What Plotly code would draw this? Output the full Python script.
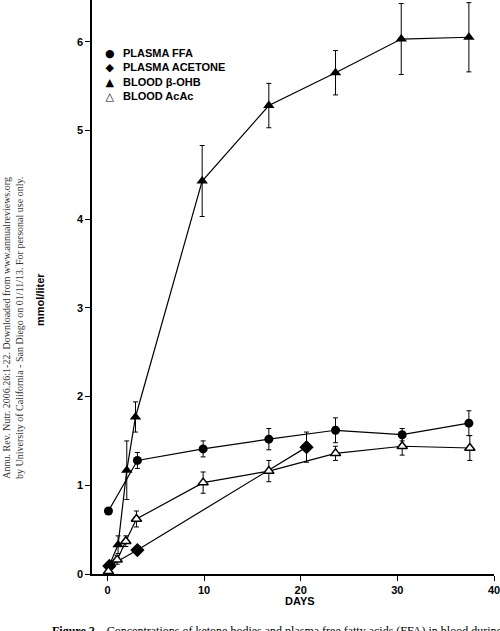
import plotly.graph_objects as go

# values
ffa_days = [0.1, 3.1, 9.9, 16.7, 23.6, 30.5, 37.4]
ffa = [0.71, 1.28, 1.41, 1.52, 1.62, 1.57, 1.70]
ffa_err = [0, 0.09, 0.09, 0.12, 0.14, 0.07, 0.14]

acetone_days = [0.2, 3.1, 20.6]
acetone = [0.09, 0.27, 1.43]
acetone_err = [0, 0, 0.17]

ohb_days = [0.2, 1.1, 2.0, 2.9, 9.8, 16.7, 23.6, 30.4, 37.4]
ohb = [0.10, 0.33, 1.17, 1.77, 4.43, 5.28, 5.65, 6.03, 6.05]
ohb_err = [0, 0.10, 0.33, 0.17, 0.40, 0.25, 0.25, 0.40, 0.39]

acac_days = [0.1, 1.0, 1.9, 3.0, 9.9, 16.7, 23.6, 30.5, 37.5]
acac = [0.03, 0.16, 0.37, 0.62, 1.03, 1.16, 1.36, 1.44, 1.42]
acac_err = [0, 0.05, 0.06, 0.09, 0.12, 0.12, 0.08, 0.10, 0.14]

x_ticks = [0, 10, 20, 30, 40]
y_ticks = [0, 1, 2, 3, 4, 5, 6]

legend_symbols = ["●", "◆", "▲", "△"]
legend_names = ["PLASMA FFA", "PLASMA ACETONE", "BLOOD β-OHB", "BLOOD AcAc"]

sidebar = ("Annu. Rev. Nutr. 2006.26:1-22. Downloaded from www.annualreviews.org<br>"
           "by University of California - San Diego on 01/11/13. For personal use only.")
caption = "<b>Figure 2</b>    Concentrations of ketone bodies and plasma free fatty acids (FFA) in blood during"

fig = go.Figure()


def err(vals):
    return dict(type="data", array=vals, color="black", thickness=1, width=2.5)


# series
fig.add_trace(go.Scatter(x=acetone_days, y=acetone, mode="lines+markers", error_y=err(acetone_err),
                         line=dict(color="black", width=1.2),
                         marker=dict(symbol="diamond", size=11, color="black")))
fig.add_trace(go.Scatter(x=ffa_days, y=ffa, mode="lines+markers", error_y=err(ffa_err),
                         line=dict(color="black", width=1.2),
                         marker=dict(symbol="circle", size=9, color="black")))
fig.add_trace(go.Scatter(x=acac_days, y=acac, mode="lines+markers", error_y=err(acac_err),
                         line=dict(color="black", width=1.2),
                         marker=dict(symbol="triangle-up", size=9, color="white",
                                     line=dict(color="black", width=1.5))))
fig.add_trace(go.Scatter(x=ohb_days, y=ohb, mode="lines+markers", error_y=err(ohb_err),
                         line=dict(color="black", width=1.2),
                         marker=dict(symbol="triangle-up", size=10, color="black")))

bold = dict(family="Liberation Sans, Arial", size=11, color="black", weight="bold")

fig.update_layout(
    width=500, height=631,
    margin=dict(l=92, r=6, t=0, b=57),
    paper_bgcolor="white", plot_bgcolor="white",
    showlegend=False,
    xaxis=dict(range=[-1.6, 40], tickvals=x_ticks, showgrid=False, zeroline=False,
               showline=True, linecolor="black", linewidth=1.5, ticklabeloverflow="allow",
               ticks="outside", ticklen=5, tickcolor="black", tickwidth=1.2, tickfont=bold),
    yaxis=dict(range=[0, 6.47], tickvals=y_ticks, showgrid=False, zeroline=False,
               showline=True, linecolor="black", linewidth=1.5,
               ticks="outside", ticklen=5, tickcolor="black", tickwidth=1.2, tickfont=bold),
)

# legend block: symbol column and text column
fig.add_annotation(text="<br>".join(legend_symbols), xref="paper", yref="paper",
                   x=(110 - 92) / 402, y=1 - 45 / 574, xanchor="center", yanchor="top",
                   align="center", showarrow=False,
                   font=dict(family="DejaVu Sans", size=11, color="black"))
fig.add_annotation(text="<br>".join(legend_names), xref="paper", yref="paper",
                   x=(121 - 92) / 402, y=1 - 45 / 574, xanchor="left", yanchor="top",
                   align="left", showarrow=False,
                   font=dict(family="Liberation Sans, Arial", size=11, color="black", weight="bold"))

# axis titles
fig.add_annotation(text="mmol/liter", xref="paper", yref="paper", x=(40 - 92) / 402,
                   y=(574 - 300) / 574, xanchor="center", yanchor="middle",
                   textangle=-90, showarrow=False, font=bold)
fig.add_annotation(text="DAYS", xref="paper", yref="paper", x=(300 - 92) / 402,
                   y=(574 - 601) / 574, xanchor="center", yanchor="middle",
                   showarrow=False, font=bold)

# scan margins: sidebar note and cut-off caption
fig.add_annotation(text=sidebar, xref="paper", yref="paper", x=(13 - 92) / 402,
                   y=(574 - 328) / 574, xanchor="center", yanchor="middle",
                   textangle=-90, showarrow=False, align="center",
                   font=dict(family="Liberation Serif, Times New Roman", size=10, color="#333"))
fig.add_annotation(text=caption, xref="paper", yref="paper", x=(50 - 92) / 402,
                   y=(574 - 622) / 574, xanchor="left", yanchor="top", showarrow=False,
                   font=dict(family="Liberation Serif, Times New Roman", size=12, color="black"))

fig.write_html("out.html", config={"displayModeBar": False},
               post_script="document.body.style.margin='0';")
